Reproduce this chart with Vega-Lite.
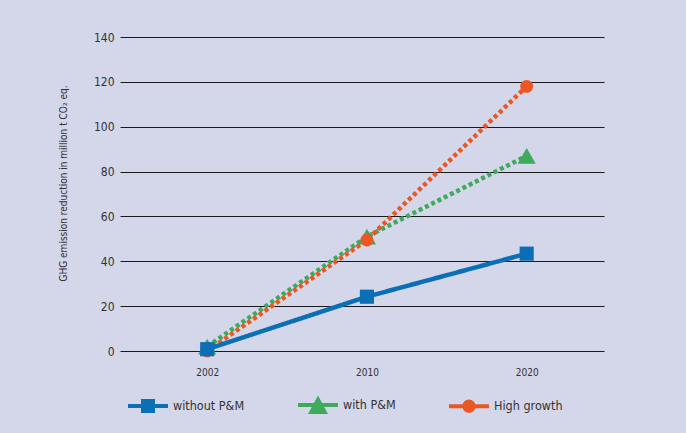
{
  "$schema": "https://vega.github.io/schema/vega-lite/v6.json",
  "autosize": "none",
  "width": 484,
  "height": 314,
  "padding": {"left": 120, "top": 37, "right": 82, "bottom": 82},
  "background": "#d4d6ea",
  "config": {
    "view": {"stroke": null},
    "font": "'DejaVu Sans Condensed', 'Liberation Sans', sans-serif",
    "axis": {"labelFont": "'DejaVu Sans Condensed', 'Liberation Sans', sans-serif", "titleFont": "'DejaVu Sans Condensed', 'Liberation Sans', sans-serif", "labelColor": "#333333", "titleColor": "#333333"},
    "legend": {"labelFont": "'DejaVu Sans Condensed', 'Liberation Sans', sans-serif"}
  },
  "data": {
    "values": [
      {"series": "with P&M", "year": "2002", "value": 2},
      {"series": "with P&M", "year": "2010", "value": 51},
      {"series": "with P&M", "year": "2020", "value": 87},
      {"series": "High growth", "year": "2002", "value": 0},
      {"series": "High growth", "year": "2010", "value": 49.5},
      {"series": "High growth", "year": "2020", "value": 118},
      {"series": "without P&M", "year": "2002", "value": 0.8},
      {"series": "without P&M", "year": "2010", "value": 24.2},
      {"series": "without P&M", "year": "2020", "value": 43.4}
    ]
  },
  "encoding": {
    "x": {
      "field": "year", "type": "ordinal",
      "scale": {"type": "point", "domain": ["2002", "2010", "2020"], "padding": 0.515, "align": 0.53},
      "axis": {"title": null, "labelAngle": 0, "domain": false, "ticks": false, "grid": false, "labelFontSize": 10, "labelPadding": 16}
    },
    "y": {
      "field": "value", "type": "quantitative",
      "scale": {"domain": [0, 140], "nice": false},
      "axis": {
        "title": "GHG emission reduction in million t CO₂ eq.",
        "titleFontSize": 10, "titleFontWeight": "normal", "titlePadding": 25, "titleY": 146,
        "values": [0, 20, 40, 60, 80, 100, 120, 140],
        "grid": true, "gridColor": "#1a1a1a", "gridWidth": 1, "gridOpacity": 1,
        "domain": false, "ticks": false, "labelFontSize": 12, "labelPadding": 6
      }
    },
    "color": {
      "field": "series", "type": "nominal",
      "scale": {"domain": ["without P&M", "with P&M", "High growth"], "range": ["#0b6fb5", "#3daa5c", "#ea5722"]},
      "legend": {
        "title": null, "orient": "bottom", "direction": "horizontal",
        "offset": 0, "padding": 8, "columnPadding": 53, "labelOffset": 5, "labelFontSize": 12.5, "labelColor": "#333333",
        "symbolSize": 1600, "symbolStrokeWidth": 0,
        "encode": {
          "symbols": {
            "update": {
              "shape": {"signal": "datum.value === 'without P&M' ? 'M-1,-0.1H1V0.1H-1Z M-0.35,-0.35H0.35V0.35H-0.35Z' : datum.value === 'with P&M' ? 'M-1,-0.1H1V0.1H-1Z M0,-0.47L0.5,0.45H-0.5Z' : 'M-1,-0.1H1V0.1H-1Z M-0.33,0A0.33,0.33 0 1,1 0.33,0A0.33,0.33 0 1,1 -0.33,0Z'"},
              "fill": {"scale": "color", "field": "value"},
              "stroke": {"value": "transparent"},
              "size": {"value": 1600},
              "opacity": {"value": 1}
            }
          }
        }
      }
    }
  },
  "layer": [
    {
      "mark": {"type": "line", "strokeWidth": 4.5},
      "encoding": {
        "strokeDash": {
          "field": "series", "type": "nominal",
          "scale": {"domain": ["without P&M", "with P&M", "High growth"], "range": [[1, 0], [4, 3], [4, 3]]},
          "legend": null
        }
      }
    },
    {
      "transform": [{"filter": "datum.series === 'with P&M'"}],
      "mark": {"type": "point", "filled": true, "opacity": 1, "shape": "triangle-up", "size": 330}
    },
    {
      "transform": [{"filter": "datum.series === 'High growth'"}],
      "mark": {"type": "point", "filled": true, "opacity": 1, "shape": "circle", "size": 165}
    },
    {
      "transform": [{"filter": "datum.series === 'without P&M'"}],
      "mark": {"type": "point", "filled": true, "opacity": 1, "shape": "square", "size": 200}
    }
  ]
}
